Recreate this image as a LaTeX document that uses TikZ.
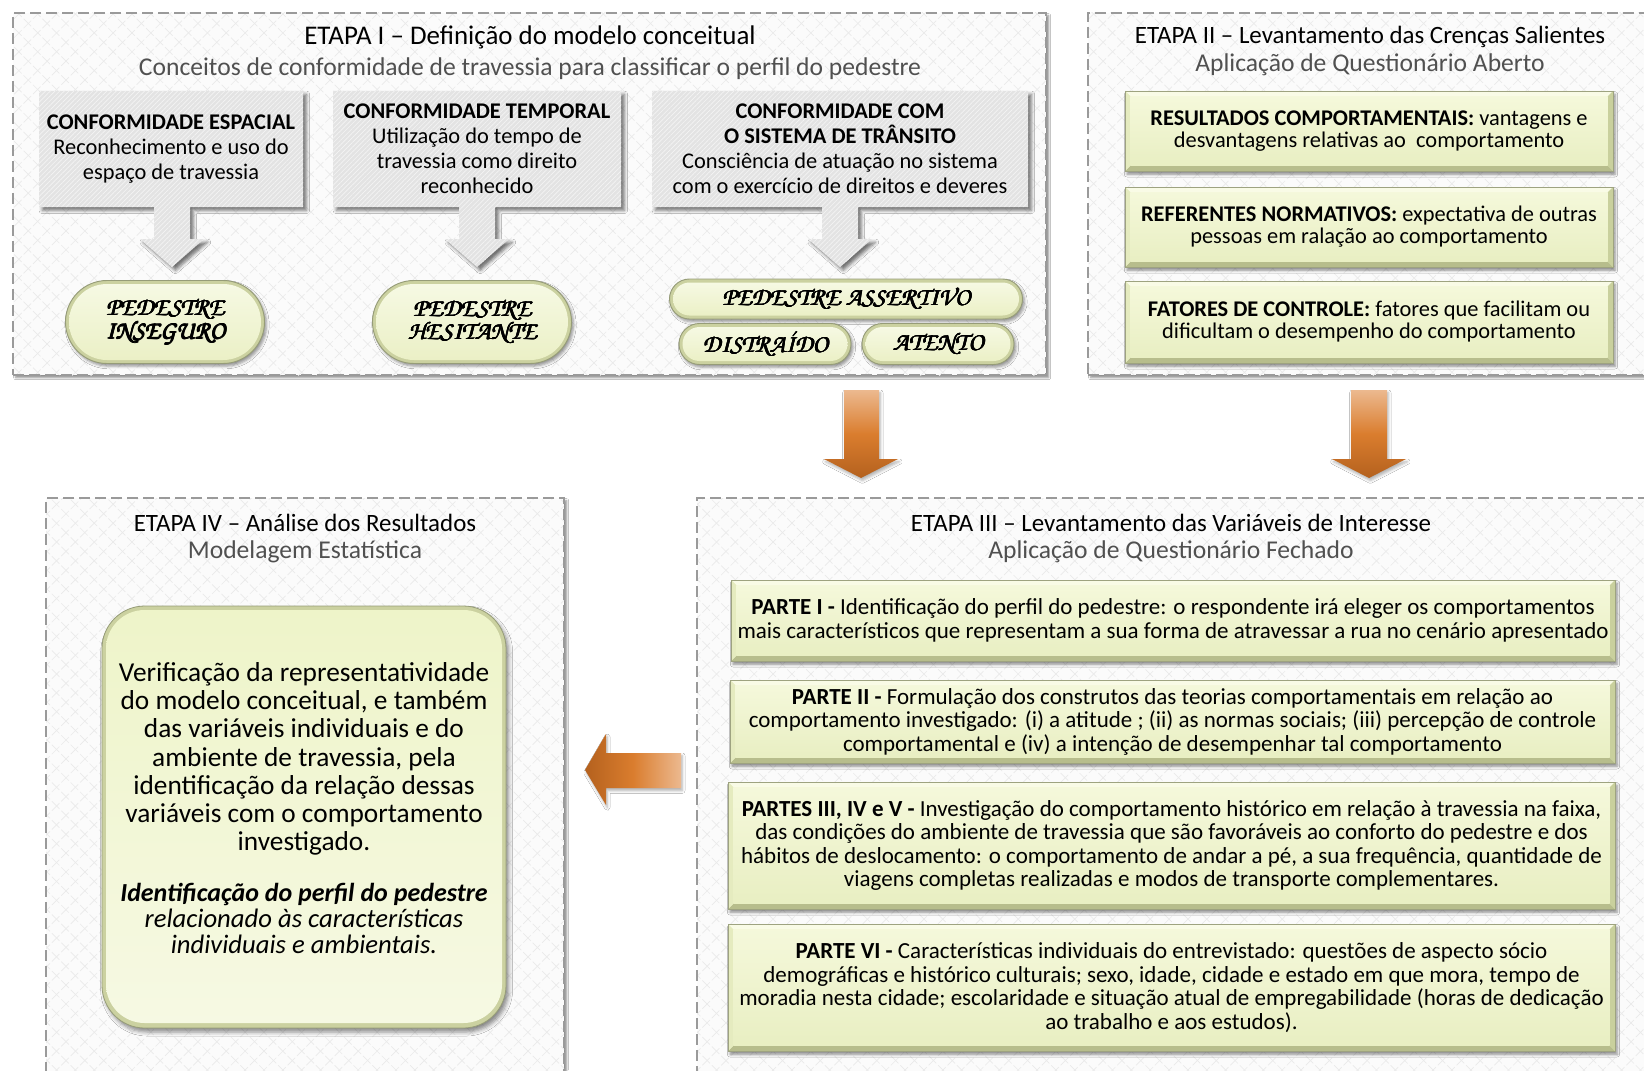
\documentclass[tikz,border=0pt]{standalone}
\usepackage[T1]{fontenc}
\usepackage{fontspec}
\setmainfont{Carlito}
\usetikzlibrary{shapes.misc,shadows.blur,patterns.meta,fit}

% colour palette
\definecolor{frameline}{HTML}{9A9A9A}
\definecolor{framebg}{HTML}{FBFBFB}
\definecolor{lattice}{HTML}{EAEAEA}
\definecolor{callgray}{HTML}{E3E3E3}
\definecolor{bevmid}{HTML}{EEF4C9}
\definecolor{bevtop}{HTML}{F9FBE6}
\definecolor{bevbot}{HTML}{B7BD8C}
\definecolor{bevleft}{HTML}{E5EBBF}
\definecolor{bevright}{HTML}{C9D09D}
\definecolor{bevline}{HTML}{9EA380}
\definecolor{pillrim}{HTML}{CBD1A0}
\definecolor{pillin}{HTML}{F6F9E3}
\definecolor{pillinb}{HTML}{EBF0C6}
\definecolor{pillline}{HTML}{969C78}
\definecolor{orlight}{HTML}{ECB98F}
\definecolor{ormid}{HTML}{DA7D2E}
\definecolor{ordark}{HTML}{B4611E}
\definecolor{subgray}{HTML}{505050}

% calligraphic face for the pedestrian profiles, thickened by overprinting
\newcommand\chanc{\fontencoding{T1}\fontfamily{pzc}\fontseries{mb}\fontshape{it}\selectfont}
\newcommand\hv[1]{\leavevmode\rlap{\kern0.5pt#1}\rlap{\raisebox{0.35pt}{#1}}\rlap{\kern0.5pt\raisebox{0.35pt}{#1}}\rlap{\kern0.25pt\raisebox{0.18pt}{#1}}#1}

\tikzset{
  stage/.style={inner sep=0pt, draw=frameline, line width=0.9pt, dash pattern=on 8pt off 4pt,
    blur shadow={shadow xshift=2pt, shadow yshift=-2pt, shadow opacity=45, shadow blur radius=1.5pt},
    preaction={fill=framebg},
    preaction={pattern={Lines[angle=45,distance=10pt,line width=0.5pt]}, pattern color=lattice},
    preaction={pattern={Lines[angle=-45,distance=10pt,line width=0.5pt]}, pattern color=lattice}},
  ttl/.style={inner sep=0pt, font=\fontsize{18.7}{20}\selectfont},
  sub/.style={inner sep=0pt, text=subgray, font=\fontsize{19.2}{20}\selectfont},
  callout/.style={fill=callgray,
    blur shadow={shadow xshift=2.5pt, shadow yshift=-2.5pt, shadow opacity=55, shadow blur radius=2.5pt},
    postaction={pattern={Lines[angle=45,distance=2.5pt,line width=0.5pt]}, pattern color=white!60!callgray}},
  calltext/.style={inner sep=0pt, align=center, font=\fontsize{16.8}{18.75}\selectfont},
  bevelbox/.style={inner sep=0pt, align=center, fill=bevmid, draw=bevline, line width=0.5pt,
    blur shadow={shadow xshift=1.5pt, shadow yshift=-2.5pt, shadow opacity=45, shadow blur radius=2pt},
    path picture={
      \fill[bevtop] (path picture bounding box.north west) -- (path picture bounding box.north east)
        -- ([shift={(-4pt,-4pt)}]path picture bounding box.north east)
        -- ([shift={(4pt,-4pt)}]path picture bounding box.north west) -- cycle;
      \fill[bevbot] (path picture bounding box.south west) -- (path picture bounding box.south east)
        -- ([shift={(-4pt,4pt)}]path picture bounding box.south east)
        -- ([shift={(4pt,4pt)}]path picture bounding box.south west) -- cycle;
      \fill[bevleft] (path picture bounding box.north west) -- (path picture bounding box.south west)
        -- ([shift={(4pt,4pt)}]path picture bounding box.south west)
        -- ([shift={(4pt,-4pt)}]path picture bounding box.north west) -- cycle;
      \fill[bevright] (path picture bounding box.north east) -- (path picture bounding box.south east)
        -- ([shift={(-4pt,4pt)}]path picture bounding box.south east)
        -- ([shift={(-4pt,-4pt)}]path picture bounding box.north east) -- cycle;
      \shade[top color=bevtop!60!bevmid, bottom color=bevmid!85!bevright]
        ([shift={(4pt,-4pt)}]path picture bounding box.north west)
        rectangle ([shift={(-4pt,4pt)}]path picture bounding box.south east);
    }},
  twotext/.style={font=\fontsize{16.8}{16.5}\selectfont},
  threetext/.style={font=\fontsize{17.25}{17.6}\selectfont},
  pillout/.style={rounded rectangle, inner sep=0pt, fill=pillrim, draw=pillline, line width=0.7pt,
    blur shadow={shadow xshift=1.5pt, shadow yshift=-2pt, shadow opacity=40, shadow blur radius=2pt}},
  pillin/.style={rounded rectangle, inner sep=0pt, align=center, top color=pillin, bottom color=pillinb,
    font=\chanc\fontsize{19}{17.5}\selectfont},
  bigout/.style={inner sep=0pt, rounded corners=32pt, fill=pillrim, draw=pillline, line width=0.6pt,
    blur shadow={shadow xshift=2pt, shadow yshift=-3pt, shadow opacity=45, shadow blur radius=3pt}},
  bigin/.style={inner sep=0pt, rounded corners=29pt, top color=bevmid, bottom color=pillin},
  flow/.style={top color=orlight, bottom color=ordark, middle color=ormid,
    blur shadow={shadow xshift=1pt, shadow yshift=-2pt, shadow opacity=30, shadow blur radius=2pt}},
  flowleft/.style={left color=ordark, right color=orlight, middle color=ormid,
    blur shadow={shadow xshift=1pt, shadow yshift=-2pt, shadow opacity=30, shadow blur radius=2pt}}
}

% stadium-shaped profile label: name, x, y, width, height, text
\newcommand\pill[6]{%
  \node[pillout, minimum width=#4*0.75pt, minimum height=#5*0.75pt] (#1) at (#2,#3) {};
  \node[pillin, minimum width=(#4-7)*0.75pt, minimum height=(#5-7)*0.75pt] (#1-t) at (#2,#3) {#6};}

% bevelled text box: name, x1, y1, x2, y2, text style, text
\newcommand\bbox[7]{%
  \node[bevelbox, #6, minimum width=(#4-#2)*0.75pt, minimum height=(#5-#3)*0.75pt]
    (#1) at ({(#2+#4)/2},{(#3+#5)/2}) {#7};}

\begin{document}
\begin{tikzpicture}[x=0.75pt,y=-0.75pt]
\useasboundingbox (0,0) rectangle (1644,1070);
\fill[white] (0,0) rectangle (1644,1070);

% ---------- stage frames ----------
\node[stage, fit={(13,13)(1046,375)}] (etapa1) {};
\node[stage, fit={(1088,13)(1652,375)}] (etapa2) {};
\node[stage, fit={(697,498)(1645,1090)}] (etapa3) {};
\node[stage, fit={(46,498)(564,1090)}] (etapa4) {};

% ---------- ETAPA I ----------
\node[ttl, font=\fontsize{20.2}{22}\selectfont] (t1) at (530,37) {ETAPA I – Definição do modelo conceitual};
\node[sub] (s1) at (530,69) {Conceitos de conformidade de travessia para classificar o perfil do pedestre};

\path[callout] (39,91) -- (303,91) -- (303,207) -- (190,207) -- (190,239) -- (204,239) -- (172,267)
  -- (140,239) -- (154,239) -- (154,207) -- (39,207) -- cycle;
\path[callout] (333,91) -- (621,91) -- (621,207) -- (495,207) -- (495,239) -- (509,239) -- (477,267)
  -- (445,239) -- (459,239) -- (459,207) -- (333,207) -- cycle;
\path[callout] (652,91) -- (1028,91) -- (1028,207) -- (858,207) -- (858,239) -- (872,239) -- (840,267)
  -- (808,239) -- (822,239) -- (822,207) -- (652,207) -- cycle;

\node[calltext] (c1) at (171,149) {\textbf{CONFORMIDADE ESPACIAL}\\Reconhecimento e uso do\\espaço de travessia};
\node[calltext] (c2) at (477,149) {\textbf{CONFORMIDADE TEMPORAL}\\Utilização do tempo de\\travessia como direito\\reconhecido};
\node[calltext] (c3) at (840,149) {\textbf{CONFORMIDADE COM}\\\textbf{O SISTEMA DE TRÂNSITO}\\Consciência de atuação no sistema\\com o exercício de direitos e deveres};

\pill{inseguro}{165}{322}{199}{83}{\hv{PEDESTRE}\\\hv{INSEGURO}}
\pill{hesitante}{472}{322}{199}{83}{\hv{PEDESTRE}\\\hv{HESITANTE}}
\pill{assertivo}{846}{299}{353}{40}{\hv{PEDESTRE ASSERTIVO}}
\pill{distraido}{765}{344}{172}{41}{\hv{DISTRA\'IDO}}
\pill{atento}{938}{344}{152}{41}{\hv{ATENTO}}

% ---------- ETAPA II ----------
\node[ttl] (t2) at (1370,37) {ETAPA II – Levantamento das Crenças Salientes};
\node[sub] (s2) at (1370,65) {Aplicação de Questionário Aberto};

\bbox{b21}{1125}{91}{1613}{171}{twotext}{\textbf{RESULTADOS COMPORTAMENTAIS:} vantagens e\\desvantagens relativas ao\ \ comportamento}
\bbox{b22}{1125}{187}{1613}{267}{twotext}{\textbf{REFERENTES NORMATIVOS:} expectativa de outras\\pessoas em ralação ao comportamento}
\bbox{b23}{1125}{281}{1613}{363}{twotext}{\textbf{FATORES DE CONTROLE:} fatores que facilitam ou\\dificultam o desempenho do comportamento}

% ---------- ETAPA III ----------
\node[ttl] (t3) at (1171,523) {ETAPA III – Levantamento das Variáveis de Interesse};
\node[sub] (s3) at (1171,552) {Aplicação de Questionário Fechado};

\bbox{p1}{731}{580}{1615}{661}{threetext}{\textbf{PARTE I -} Identificação do perfil do pedestre: o respondente irá eleger os comportamentos\\mais característicos que representam a sua forma de atravessar a rua no cenário apresentado}
\bbox{p2}{730}{680}{1615}{763}{threetext}{\textbf{PARTE II -} Formulação dos construtos das teorias comportamentais em relação ao\\comportamento investigado: (i) a atitude ; (ii) as normas sociais; (iii) percepção de controle\\comportamental e (iv) a intenção de desempenhar tal comportamento}
\bbox{p3}{728}{782}{1615}{909}{threetext}{\textbf{PARTES III, IV e V -} Investigação do comportamento histórico em relação à travessia na faixa,\\das condições do ambiente de travessia que são favoráveis ao conforto do pedestre e dos\\hábitos de deslocamento: o comportamento de andar a pé, a sua frequência, quantidade de\\viagens completas realizadas e modos de transporte complementares.}
\bbox{p4}{728}{924}{1615}{1051}{threetext}{\textbf{PARTE VI -} Características individuais do entrevistado: questões de aspecto sócio\\demográficas e histórico culturais; sexo, idade, cidade e estado em que mora, tempo de\\moradia nesta cidade; escolaridade e situação atual de empregabilidade (horas de dedicação\\ao trabalho e aos estudos).}

% ---------- ETAPA IV ----------
\node[ttl] (t4) at (305,523) {ETAPA IV – Análise dos Resultados};
\node[sub] (s4) at (305,552) {Modelagem Estatística};

\node[bigout, fit={(102,606)(506,1028)}] (b4) {};
\node[bigin, fit={(106,610)(502,1023)}] (b4in) {};
\node[inner sep=0pt, align=center, font=\fontsize{20.5}{21.2}\selectfont] (b4text) at (304,759)
  {Verificação da representatividade\\do modelo conceitual, e também\\das variáveis individuais e do\\ambiente de travessia, pela\\identificação da relação dessas\\variáveis com o comportamento\\investigado.};
\node[inner sep=0pt, align=center, font=\fontsize{20}{19.5}\itshape] (b4conc) at (304,918)
  {\textbf{\fontsize{19.5}{19.5}\selectfont Identificação do perfil do pedestre}\\relacionado às características\\individuais e ambientais.};

% ---------- flow arrows between stages ----------
\path[flow] (844,390) -- (879,390) -- (879,459) -- (898,459) -- (861,478) -- (824,459) -- (844,459) -- cycle;
\path[flow] (1351,390) -- (1387,390) -- (1387,459) -- (1406,459) -- (1369,478) -- (1332,459) -- (1351,459) -- cycle;
\path[flowleft] (681,753) -- (606,753) -- (606,734) -- (585,770) -- (606,805) -- (606,788) -- (681,788) -- cycle;
\end{tikzpicture}
\end{document}
